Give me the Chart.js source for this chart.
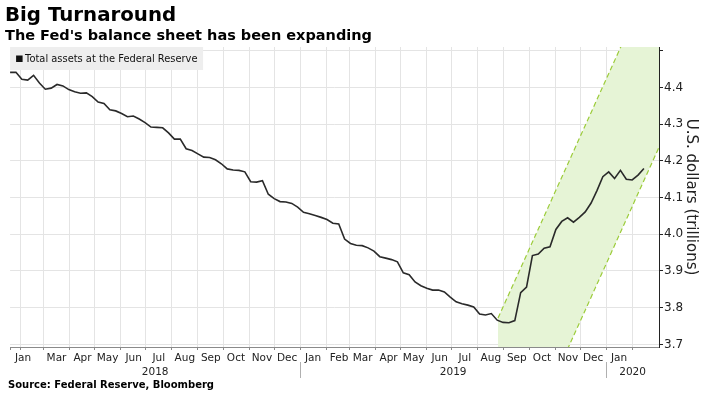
<!DOCTYPE html>
<html>
<head>
<meta charset="utf-8">
<script src="https://cdn.jsdelivr.net/npm/chart.js@4.4.1/dist/chart.umd.min.js"></script>
<style>
  html, body { margin: 0; padding: 0; background: #fff; }
  #wrap { position: relative; width: 710px; height: 399px; font-family: "DejaVu Sans", Verdana, sans-serif; color: #000; }
  #wrap canvas { position: absolute; left: 0; top: 0; }
  .title { position: absolute; left: 5px; top: 3px; font-size: 19.8px; font-weight: bold; line-height: 24px; white-space: nowrap; }
  .subtitle { position: absolute; left: 5px; top: 26px; font-size: 14.5px; font-weight: bold; line-height: 18px; white-space: nowrap; }
  .source { position: absolute; left: 8px; top: 378px; font-size: 10px; font-weight: bold; line-height: 14px; white-space: nowrap; }
</style>
</head>
<body>
<div id="wrap">
  <canvas id="myChart" width="710" height="399"></canvas>
  <div class="title">Big Turnaround</div>
  <div class="subtitle">The Fed's balance sheet has been expanding</div>
  <div class="source">Source: Federal Reserve, Bloomberg</div>
</div>
<script>
const seriesName = 'Total assets at the Federal Reserve';

// weekly observations, first one on this date
const firstWeek = '2018-01-20';
const axisEnd = '2020-03-04';

// trillions of U.S. dollars
const totalAssets = [
  4.441, 4.441, 4.422, 4.420, 4.433, 4.412, 4.395, 4.398, 4.408, 4.404,
  4.394, 4.388, 4.384, 4.385, 4.375, 4.360, 4.356, 4.339, 4.336, 4.329,
  4.320, 4.322, 4.314, 4.304, 4.292, 4.291, 4.290, 4.276, 4.259, 4.259,
  4.233, 4.228, 4.219, 4.210, 4.209, 4.203, 4.192, 4.178, 4.175, 4.174,
  4.170, 4.143, 4.142, 4.146, 4.109, 4.097, 4.089, 4.088, 4.084, 4.074,
  4.060, 4.056, 4.051, 4.046, 4.040, 4.030, 4.028, 3.987, 3.975, 3.970,
  3.969, 3.963, 3.954, 3.939, 3.935, 3.931, 3.925, 3.895, 3.890, 3.870,
  3.860, 3.853, 3.848, 3.848, 3.843, 3.829, 3.816, 3.811, 3.807, 3.802,
  3.783, 3.780, 3.784, 3.766, 3.760, 3.759, 3.765, 3.841, 3.856, 3.942,
  3.946, 3.962, 3.966, 4.013, 4.035, 4.045, 4.033, 4.046, 4.061, 4.085,
  4.119, 4.157, 4.170, 4.152, 4.174, 4.150, 4.148, 4.161, 4.179
];

// the shaded up-channel
const channelDates = ['2019-08-25', '2020-03-04'];
const channelUpper = [3.772, 4.740];
const channelLower = [3.269, 4.237];

const xTickDates = [
  '2018-01-20', '2018-02-01', '2018-03-01', '2018-04-01', '2018-05-01', '2018-06-01',
  '2018-07-01', '2018-08-01', '2018-09-01', '2018-10-01', '2018-11-01', '2018-12-01',
  '2019-01-01', '2019-02-01', '2019-03-01', '2019-04-01', '2019-05-01', '2019-06-01',
  '2019-07-01', '2019-08-01', '2019-09-01', '2019-10-01', '2019-11-01', '2019-12-01',
  '2020-01-01', '2020-02-01'
];
const xTickLabels = [
  'Jan', '', 'Mar', 'Apr', 'May', 'Jun', 'Jul', 'Aug', 'Sep', 'Oct', 'Nov', 'Dec',
  'Jan', 'Feb', 'Mar', 'Apr', 'May', 'Jun', 'Jul', 'Aug', 'Sep', 'Oct', 'Nov', 'Dec',
  'Jan', ''
];
const years = ['2018', '2019', '2020'];
const yearStarts = ['2018-01-01', '2019-01-01', '2020-01-01'];

const yTicks = [3.7, 3.8, 3.9, 4.0, 4.1, 4.2, 4.3, 4.4, 4.5];
const yMin = 3.693;
const yMax = 4.510;

const FONT = '"DejaVu Sans", Verdana, sans-serif';

// days since 1 Jan 2018
function dayOf(s) {
  return (Date.parse(s) - Date.parse('2018-01-01')) / 864e5;
}

const start = dayOf(firstWeek);
const assetPoints = totalAssets.map((v, i) => ({ x: start + 7 * i, y: v }));
const upperPoints = channelDates.map((d, i) => ({ x: dayOf(d), y: channelUpper[i] }));
const lowerPoints = channelDates.map((d, i) => ({ x: dayOf(d), y: channelLower[i] }));
const tickDays = xTickDates.map(dayOf);

const legendBox = {
  id: 'legendBox',
  beforeDatasetsDraw(chart) {
    const { ctx, chartArea } = chart;
    ctx.save();
    ctx.fillStyle = '#eeeeee';
    ctx.fillRect(chartArea.left, chartArea.top, 193, 23);
    ctx.fillStyle = '#111';
    ctx.fillRect(chartArea.left + 6, chartArea.top + 8.5, 6.5, 6.5);
    ctx.font = '9.9px ' + FONT;
    ctx.textBaseline = 'middle';
    ctx.fillText(seriesName, chartArea.left + 15, chartArea.top + 12);
    ctx.restore();
  }
};

const yearLabels = {
  id: 'yearLabels',
  afterDraw(chart) {
    const x = chart.scales.x;
    const ctx = chart.ctx;
    ctx.save();
    ctx.font = '10.5px ' + FONT;
    ctx.fillStyle = '#222';
    ctx.textAlign = 'center';
    ctx.textBaseline = 'alphabetic';
    ctx.strokeStyle = '#b0b0b0';
    ctx.lineWidth = 1;
    for (let i = 0; i < years.length; i++) {
      const a = Math.max(dayOf(yearStarts[i]), x.min);
      const b = i + 1 < years.length ? Math.min(dayOf(yearStarts[i + 1]), x.max) : x.max;
      ctx.fillText(years[i], (x.getPixelForValue(a) + x.getPixelForValue(b)) / 2, 375);
      if (i > 0) {
        const px = Math.round(x.getPixelForValue(dayOf(yearStarts[i]))) + 0.5;
        ctx.beginPath();
        ctx.moveTo(px, 362);
        ctx.lineTo(px, 378);
        ctx.stroke();
      }
    }
    ctx.restore();
  }
};

const ctx = document.getElementById('myChart').getContext('2d');
const myChart = new Chart(ctx, {
  type: 'line',
  data: {
    datasets: [
      {
        label: seriesName,
        data: assetPoints,
        borderColor: '#2a2a2a',
        borderWidth: 1.6,
        pointRadius: 0,
        tension: 0,
        fill: false,
        order: 0
      },
      {
        label: 'upper',
        data: upperPoints,
        borderColor: '#9ccc3a',
        borderWidth: 1.2,
        borderDash: [5, 3],
        pointRadius: 0,
        fill: false,
        order: 1
      },
      {
        label: 'lower',
        data: lowerPoints,
        borderColor: '#9ccc3a',
        borderWidth: 1.2,
        borderDash: [5, 3],
        pointRadius: 0,
        fill: '-1',
        backgroundColor: '#e6f4d6',
        order: 2
      }
    ]
  },
  options: {
    responsive: false,
    animation: false,
    devicePixelRatio: 1,
    layout: { padding: { top: 47, left: 5, right: 0, bottom: 0 } },
    plugins: {
      legend: { display: false },
      tooltip: { enabled: false },
      filler: { drawTime: 'beforeDatasetsDraw' }
    },
    scales: {
      x: {
        type: 'linear',
        min: start,
        max: dayOf(axisEnd),
        afterBuildTicks: s => { s.ticks = tickDays.map(v => ({ value: v })); },
        afterFit: s => { s.height = 52; },
        grid: {
          color: c => c.index === 0 ? 'rgba(0,0,0,0)' : '#e4e4e4',
          tickColor: '#8a8a8a',
          tickLength: 3
        },
        border: { color: '#8a8a8a', width: 1 },
        ticks: {
          autoSkip: false,
          maxRotation: 0,
          labelOffset: 12.9,
          padding: 2,
          color: '#222',
          font: { family: FONT, size: 10.5 },
          callback: (v, i) => xTickLabels[i]
        }
      },
      y: {
        position: 'right',
        min: yMin,
        max: yMax,
        afterBuildTicks: s => { s.ticks = yTicks.map(v => ({ value: v })); },
        afterFit: s => { s.width = 51; },
        grid: { color: '#e4e4e4', tickColor: '#222', tickLength: 4 },
        border: { color: '#222', width: 1 },
        ticks: {
          padding: 1,
          color: '#222',
          font: { family: FONT, size: 12 },
          callback: v => v > 4.45 ? '' : v.toFixed(1)
        },
        title: {
          display: true,
          text: 'U.S. dollars (trillions)',
          color: '#222',
          font: { family: FONT, size: 15 },
          padding: { top: 10, bottom: 0 }
        }
      }
    }
  },
  plugins: [legendBox, yearLabels]
});
</script>
</body>
</html>
